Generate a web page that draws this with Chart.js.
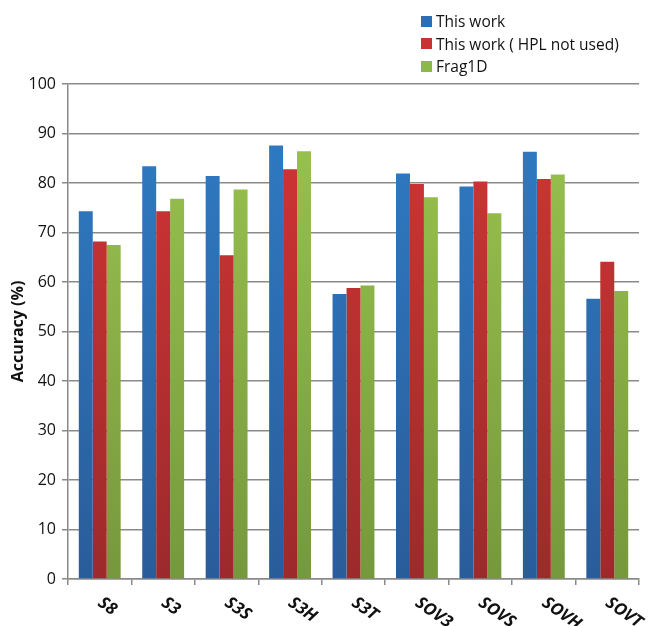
<!DOCTYPE html>
<html>
<head>
<meta charset="utf-8">
<script src="https://cdn.jsdelivr.net/npm/chart.js@4"></script>
<style>
  html, body { margin: 0; padding: 0; background: #fff; }
  #wrap { position: relative; width: 648px; height: 626px; }
  #legend { position: absolute; left: 421px; top: 10px; font-family: "Open Sans", sans-serif; font-size: 15.5px; color: #111; line-height: 22.5px; }
  #legend div { display: flex; align-items: center; white-space: nowrap; }
  #legend span.sw { display: inline-block; width: 11px; height: 11px; margin-right: 4px; }
</style>
</head>
<body>
<div id="wrap">
  <canvas id="c" width="648" height="626"></canvas>
  <div id="legend"></div>
</div>
<script>
const categories = ["S8", "S3", "S3S", "S3H", "S3T", "SOV3", "SOVS", "SOVH", "SOVT"];
const seriesNames = ["This work", "This work ( HPL not used)", "Frag1D"];
const thisWork = [74.3, 83.4, 81.4, 87.6, 57.6, 81.9, 79.3, 86.3, 56.6];
const thisWorkNoHPL = [68.2, 74.3, 65.4, 82.8, 58.8, 79.8, 80.3, 80.8, 64.1];
const frag1D = [67.5, 76.8, 78.7, 86.4, 59.3, 77.1, 73.9, 81.7, 58.2];
const yTicks = [0, 10, 20, 30, 40, 50, 60, 70, 80, 90, 100];

const palette = [
  { top: "#2F7DC6", bottom: "#2A5C9A", legend: "#2A6EB8" },
  { top: "#D53535", bottom: "#9C2A2C", legend: "#C83232" },
  { top: "#9CC650", bottom: "#76983D", legend: "#8CB848" }
];

function gradFor(i) {
  return function (ctx) {
    const chart = ctx.chart;
    const area = chart.chartArea;
    if (!area) return palette[i].top;
    const g = chart.ctx.createLinearGradient(0, area.top, 0, area.bottom);
    g.addColorStop(0, palette[i].top);
    g.addColorStop(1, palette[i].bottom);
    return g;
  };
}

const legendEl = document.getElementById("legend");
seriesNames.forEach((n, i) => {
  const d = document.createElement("div");
  d.innerHTML = '<span class="sw" style="background:' + palette[i].legend + '"></span>' + n;
  legendEl.appendChild(d);
});

const xLabelPlugin = {
  id: "xLabels",
  afterDraw(chart) {
    const sx = chart.scales.x;
    const ctx = chart.ctx;
    ctx.save();
    ctx.font = "italic bold 17px 'Open Sans', sans-serif";
    ctx.fillStyle = "#111";
    ctx.textAlign = "left";
    ctx.textBaseline = "middle";
    categories.forEach((c, i) => {
      const x = sx.getPixelForValue(i);
      const y = sx.top + 22;
      ctx.save();
      ctx.translate(x, y);
      ctx.rotate(35 * Math.PI / 180);
      ctx.fillText(c, 0, 0);
      ctx.restore();
    });
    ctx.restore();
  }
};

const gridColor = "#8a8a8a";

new Chart(document.getElementById("c"), {
  type: "bar",
  data: {
    labels: categories,
    datasets: [
      { label: seriesNames[0], data: thisWork, backgroundColor: gradFor(0) },
      { label: seriesNames[1], data: thisWorkNoHPL, backgroundColor: gradFor(1) },
      { label: seriesNames[2], data: frag1D, backgroundColor: gradFor(2) }
    ]
  },
  options: {
    responsive: false,
    animation: false,
    devicePixelRatio: 1,
    layout: { padding: { top: 84, right: 9, bottom: 41, left: 0 } },
    datasets: { bar: { categoryPercentage: 0.66, barPercentage: 1.0 } },
    plugins: { legend: { display: false }, tooltip: { enabled: false } },
    scales: {
      x: {
        offset: true,
        ticks: { display: false },
        grid: { display: true, drawOnChartArea: false, drawTicks: true, tickLength: 6, color: gridColor, lineWidth: 1.5 },
        border: { display: true, color: gridColor, width: 1.5 }
      },
      y: {
        min: 0, max: 100,
        afterFit(scale) { scale.width = 68; },
        afterBuildTicks(scale) { scale.ticks = yTicks.map(v => ({ value: v })); },
        ticks: { stepSize: 10, padding: 6, color: "#111", font: { family: "'Open Sans', sans-serif", size: 16 } },
        grid: { color: gridColor, lineWidth: 1.5, tickLength: 6, drawTicks: true },
        border: { display: true, color: gridColor, width: 1.5 },
        title: { display: true, text: "Accuracy (%)", color: "#111", padding: { top: 9, bottom: 0 }, font: { family: "'Open Sans', sans-serif", size: 16, weight: "bold" } }
      }
    }
  },
  plugins: [xLabelPlugin]
});
</script>
</body>
</html>
